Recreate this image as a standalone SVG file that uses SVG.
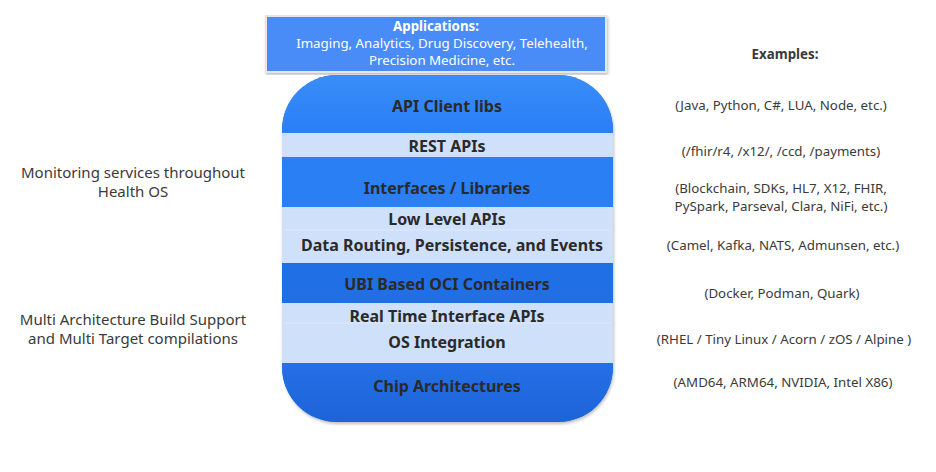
<svg xmlns="http://www.w3.org/2000/svg" width="936" height="472" viewBox="0 0 936 472">
<style>
.lay{font-family:"Noto Sans","Open Sans",sans-serif;font-weight:bold;font-size:16px;fill:#2a2a2a;text-anchor:middle}
.ex{font-family:"Noto Sans","Open Sans",sans-serif;font-size:13.3px;fill:#3a3a3a;text-anchor:middle}
.side{font-family:"Noto Sans","Open Sans",sans-serif;font-size:15px;fill:#3a3a3a;text-anchor:middle}
.app{font-family:"Noto Sans","Open Sans",sans-serif;font-size:13.3px;fill:#ffffff;text-anchor:middle}
.light{fill:#cfe0fb}
.div{stroke:#dfeafc;stroke-width:1}
</style>
<defs>
<clipPath id="stackClip"><rect x="282" y="75" width="331" height="347" rx="55" ry="55"/></clipPath>
<linearGradient id="topG" x1="0" y1="0" x2="0" y2="1"><stop offset="0" stop-color="#3a8cf8"/><stop offset="1" stop-color="#2a7ff5"/></linearGradient>
<linearGradient id="botG" x1="0" y1="0" x2="0" y2="1"><stop offset="0" stop-color="#2470e6"/><stop offset="1" stop-color="#1e63d8"/></linearGradient>
<filter id="sh" x="-5%" y="-5%" width="110%" height="110%"><feDropShadow dx="1" dy="2" stdDeviation="1.5" flood-color="#000" flood-opacity="0.25"/></filter>
</defs>
<g id="applications">
<rect x="266" y="16" width="340" height="56" fill="#4a8cf7" stroke="#e6e6e6" stroke-width="2" filter="url(#sh)"/>
<text class="app" x="436" y="31" font-weight="bold">Applications:</text>
<text class="app" x="442" y="48">Imaging, Analytics, Drug Discovery, Telehealth,</text>
<text class="app" x="442" y="65">Precision Medicine, etc.</text>
</g>
<g id="stack">
<rect x="282" y="75" width="331" height="347" rx="55" ry="55" fill="#2a7ff5" filter="url(#sh)"/>
<g clip-path="url(#stackClip)">
<rect x="282" y="75" width="331" height="58" fill="url(#topG)"/>
<rect x="282" y="133" width="331" height="24" class="light"/>
<rect x="282" y="157" width="331" height="50" fill="#2a7ff5"/>
<rect x="282" y="207" width="331" height="56" class="light"/>
<line x1="285" y1="230" x2="610" y2="230" class="div"/>
<rect x="282" y="263" width="331" height="40" fill="#216fe4"/>
<rect x="282" y="303" width="331" height="60" class="light"/>
<line x1="285" y1="323" x2="610" y2="323" class="div"/>
<rect x="282" y="363" width="331" height="59" fill="url(#botG)"/>
</g>
</g>
<g id="layer-api-client"><text class="lay" x="447" y="112">API Client libs</text></g>
<g id="layer-rest"><text class="lay" x="447" y="152">REST APIs</text></g>
<g id="layer-interfaces"><text class="lay" x="447" y="194">Interfaces / Libraries</text></g>
<g id="layer-lowlevel"><text class="lay" x="447" y="225">Low Level APIs</text></g>
<g id="layer-data"><text class="lay" x="452" y="251">Data Routing, Persistence, and Events</text></g>
<g id="layer-ubi"><text class="lay" x="447" y="290">UBI Based OCI Containers</text></g>
<g id="layer-realtime"><text class="lay" x="447" y="322">Real Time Interface APIs</text></g>
<g id="layer-os"><text class="lay" x="447" y="348">OS Integration</text></g>
<g id="layer-chip"><text class="lay" x="447" y="392">Chip Architectures</text></g>
<g id="examples">
<text class="ex" x="785" y="59" font-weight="bold" fill="#111" font-size="14">Examples:</text>
<text class="ex" x="781" y="110">(Java, Python, C#, LUA, Node, etc.)</text>
<text class="ex" x="781" y="156">(/fhir/r4, /x12/, /ccd, /payments)</text>
<text class="ex" x="781" y="193">(Blockchain, SDKs, HL7, X12, FHIR,</text>
<text class="ex" x="781" y="211">PySpark, Parseval, Clara, NiFi, etc.)</text>
<text class="ex" x="783" y="250">(Camel, Kafka, NATS, Admunsen, etc.)</text>
<text class="ex" x="782" y="298">(Docker, Podman, Quark)</text>
<text class="ex" x="784" y="344">(RHEL / Tiny Linux / Acorn / zOS / Alpine )</text>
<text class="ex" x="783" y="387">(AMD64, ARM64, NVIDIA, Intel X86)</text>
</g>
<g id="side-notes">
<text class="side" x="133" y="178">Monitoring services throughout</text>
<text class="side" x="133" y="197">Health OS</text>
<text class="side" x="133" y="325">Multi Architecture Build Support</text>
<text class="side" x="133" y="344">and Multi Target compilations</text>
</g>
</svg>
